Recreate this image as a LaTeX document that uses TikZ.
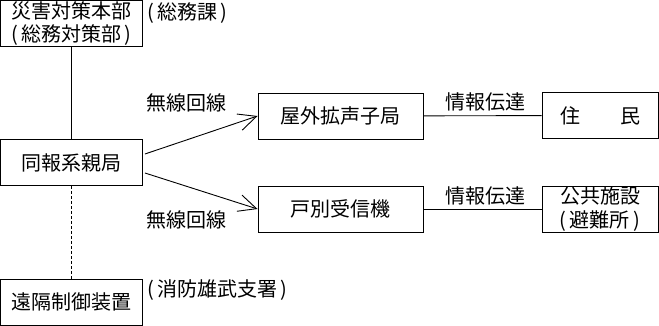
\documentclass[tikz,border=0pt]{standalone}
\usepackage{fontspec}
\setmainfont{Noto Sans CJK JP}
\usetikzlibrary{arrows.meta, positioning}

\begin{document}
\begin{tikzpicture}[x=1pt, y=-1pt,
  font=\fontsize{20}{23.5}\selectfont,
  box/.style={rectangle, draw=black, line width=0.9pt, minimum height=46pt, align=center, inner sep=0pt},
  wide/.style={box, minimum width=142pt},
  mid/.style={box, minimum width=165pt},
  small/.style={box, minimum width=116pt},
  lbl/.style={inner sep=0pt},
  link/.style={draw=black, line width=0.9pt},
  arr/.style={link, -{Straight Barb[length=18pt, width=17pt]}}]
\useasboundingbox (0,0) rectangle (659,326);
\node[wide] (honbu) at (71.5,23.5) {災害対策本部\\(\,総務対策部\,)};
\node[wide] (oya) at (71.5,162.5) {同報系親局};
\node[wide] (enkaku) at (71.5,302) {遠隔制御装置};
\node[mid] (okugai) at (340.5,116) {屋外拡声子局};
\node[mid] (kobetsu) at (340.5,209) {戸別受信機};
\node[small] (jumin) at (600,115.5) {住　　民};
\node[small] (kokyo) at (600,209) {公共施設\\(\,避難所\,)};
\node[lbl, anchor=west] (somuka) at (147,13) {(\,総務課\,)};
\node[lbl, anchor=west] (shobo) at (147,290) {(\,消防雄武支署\,)};
\node[lbl] (musen1) at (186,103) {無線回線};
\node[lbl] (musen2) at (186,220) {無線回線};
\node[lbl] (joho1) at (485,102) {情報伝達};
\node[lbl] (joho2) at (485,196) {情報伝達};
\draw[link] (honbu) -- (oya);
\draw[link, dash pattern=on 3pt off 2pt] (oya) -- (enkaku);
\draw[arr] ([shift={(2pt,8.5pt)}]oya.east) -- (okugai.west);
\draw[arr] ([shift={(2pt,-10.5pt)}]oya.east) -- (kobetsu.west);
\draw[link] (okugai) -- (jumin);
\draw[link] (kobetsu) -- (kokyo);
\end{tikzpicture}
\end{document}
